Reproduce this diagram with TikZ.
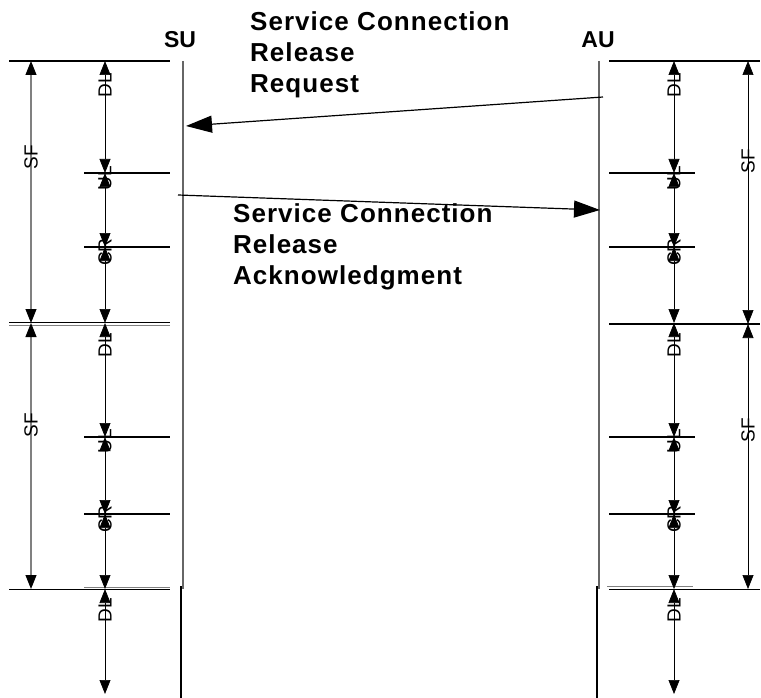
\documentclass[tikz,border=0pt]{standalone}
\usepackage{fontspec}
\setmainfont{Liberation Sans}
\newfontfamily\msgfont[LetterSpace=4]{Liberation Sans}
\usetikzlibrary{arrows.meta}
\begin{document}
\begin{tikzpicture}[x=1pt,y=-1pt,
  tick/.style={line width=1.1pt},
  softtick/.style={line width=1pt,draw=gray},
  dimarrow/.style={line width=0.7pt,{Triangle[length=14pt,width=11pt]}-{Triangle[length=14pt,width=11pt]}},
  sfarrow/.style={dimarrow,draw=gray,line width=1.1pt,{Triangle[length=14pt,width=11pt,color=black]}-{Triangle[length=14pt,width=11pt,color=black]}},
  msg/.style={line width=1.2pt,-{Triangle[length=26pt,width=17pt]}},
  lifeline/.style={draw=gray!80!black,line width=1.2pt},
  lifeend/.style={line width=1.8pt},
  dimlabel/.style={rotate=90,font=\fontsize{19}{19}\selectfont,inner sep=0pt},
  party/.style={font=\fontsize{23}{23}\selectfont\bfseries,inner sep=0pt,anchor=base},
  msgtext/.style={font=\msgfont\fontsize{26}{31}\selectfont\bfseries,align=left,inner sep=0pt,anchor=base west}]
\useasboundingbox (0,0) rectangle (761,698);

% ---- parties and lifelines
\node[party] (su) at (180,48) {SU};
\node[party] (au) at (598,48) {AU};
\coordinate (sutop) at (183,61);  \coordinate (sumid) at (183,589);
\coordinate (autop) at (599,61);  \coordinate (aumid) at (599,589);
\coordinate (suend0) at (181,586); \coordinate (suend1) at (181,698);
\coordinate (auend0) at (597,586); \coordinate (auend1) at (597,698);
\draw[lifeline] (sutop) -- (sumid);
\draw[lifeline] (autop) -- (aumid);
\draw[lifeend] (suend0) -- (suend1);
\draw[lifeend] (auend0) -- (auend1);

% ---- frame boundaries, SU side
\draw[tick] (9,61) -- (170,61);
\draw[tick] (84,173) -- (170,173);
\draw[tick] (84,247) -- (170,247);
\draw[tick] (9,322.5) -- (170,322.5);
\draw[softtick] (9,325) -- (170,325);
\draw[tick] (84,437) -- (170,437);
\draw[tick] (84,514) -- (170,514);
\draw[tick] (9,589.5) -- (170,589.5);
\draw[softtick] (84,587) -- (170,587);

% ---- frame boundaries, AU side
\draw[tick] (609,61) -- (760,61);
\draw[tick] (609,173) -- (695,173);
\draw[tick] (609,247) -- (695,247);
\draw[tick] (609,324) -- (760,324);
\draw[tick] (609,437) -- (695,437);
\draw[tick] (609,514) -- (695,514);
\draw[tick] (609,589.5) -- (760,589.5);
\draw[softtick] (607,586.5) -- (693,586.5);

% ---- dimension end points
\foreach \nm/\yy in {a/61,b/173,c/247,d/323,e/437,f/514,g/589,h/694}{
  \coordinate (l\nm) at (105,\yy);
  \coordinate (r\nm) at (674,\yy);
}
\coordinate (lsfa) at (31,61);  \coordinate (lsfb) at (31,323); \coordinate (lsfc) at (31,589);
\coordinate (rsfa) at (748,61); \coordinate (rsfb) at (748,324); \coordinate (rsfc) at (748,589);

% ---- SU side dimensions
\draw[sfarrow] (lsfa) -- (lsfb);
\draw[sfarrow] (lsfb) -- (lsfc);
\draw[dimarrow] (la) -- (lb);
\draw[dimarrow] (lb) -- (lc);
\draw[dimarrow] (lc) -- (ld);
\draw[dimarrow] (ld) -- (le);
\draw[dimarrow] (le) -- (lf);
\draw[dimarrow] (lf) -- (lg);
\draw[dimarrow] (lg) -- (lh);

\node[dimlabel] (lsf1) at (31,157) {SF};
\node[dimlabel] (lsf2) at (31,425) {SF};
\node[dimlabel] (ldl1) at (105,85) {DL};
\node[dimlabel] (lul1) at (105,178) {UL};
\node[dimlabel] (lcr1) at (105,252) {CR};
\node[dimlabel] (ldl2) at (105,345) {DL};
\node[dimlabel] (lul2) at (105,441) {UL};
\node[dimlabel] (lcr2) at (105,519) {CR};
\node[dimlabel] (ldl3) at (105,610) {DL};

% ---- AU side dimensions
\draw[dimarrow] (rsfa) -- (rsfb);
\draw[dimarrow] (rsfb) -- (rsfc);
\draw[dimarrow] (ra) -- (rb);
\draw[dimarrow] (rb) -- (rc);
\draw[dimarrow] (rc) -- (rd);
\draw[dimarrow] (rd) -- (re);
\draw[dimarrow] (re) -- (rf);
\draw[dimarrow] (rf) -- (rg);
\draw[dimarrow] (rg) -- (rh);

\node[dimlabel] (rsf1) at (748,161) {SF};
\node[dimlabel] (rsf2) at (748,430) {SF};
\node[dimlabel] (rdl1) at (674,85) {DL};
\node[dimlabel] (rul1) at (674,178) {UL};
\node[dimlabel] (rcr1) at (674,252) {CR};
\node[dimlabel] (rdl2) at (674,345) {DL};
\node[dimlabel] (rul2) at (674,441) {UL};
\node[dimlabel] (rcr2) at (674,519) {CR};
\node[dimlabel] (rdl3) at (674,610) {DL};

% ---- messages (multi-line texts are anchored at the baseline of their last line)
\coordinate (req0) at (603,97);  \coordinate (req1) at (186,126);
\coordinate (ack0) at (178,195); \coordinate (ack1) at (600,210);
\draw[msg] (req0) -- (req1);
\draw[msg] (ack0) -- (ack1);
\node[msgtext] (reqtxt) at (250,93) {Service Connection\\Release\\Request};
\node[msgtext] (acktxt) at (233,284) {Service Connection\\Release\\Acknowledgment};
\end{tikzpicture}
\end{document}
